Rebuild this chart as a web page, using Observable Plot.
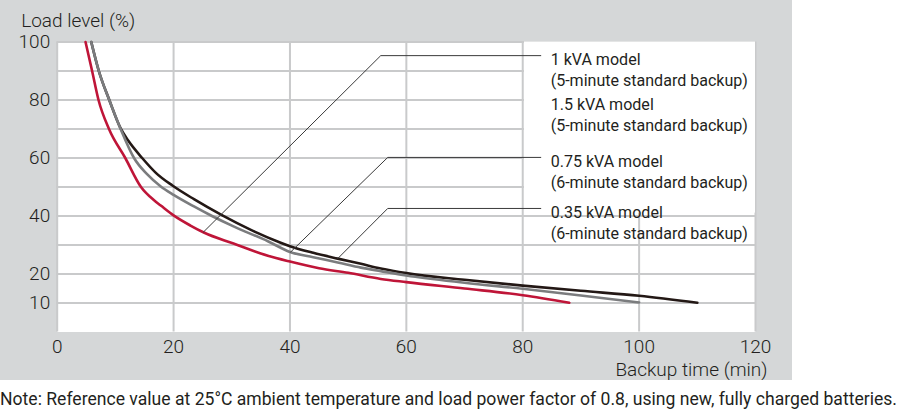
<!DOCTYPE html>
<html>
<head>
<meta charset="utf-8">
<script src="https://cdn.jsdelivr.net/npm/d3@7"></script>
<script src="https://cdn.jsdelivr.net/npm/@observablehq/plot@0.6"></script>
<style>
  html, body { margin: 0; padding: 0; background: #ffffff; }
  #chart { position: relative; width: 900px; height: 380px; }
  #panel { position: absolute; left: 0; top: 0; width: 792px; height: 380px; background: #d5d7d8; }
  #chart svg { position: absolute; left: 0; top: 0; }
  #note { width: 900px; margin-top: 8px; line-height: 22px; white-space: nowrap; overflow: visible; }
  #note span {
    display: inline-block; transform-origin: 0 50%;
    font-family: Roboto, "Liberation Sans", sans-serif;
    font-size: 18.5px; color: #231f20;
  }
</style>
</head>
<body>
<div id="chart"><div id="panel"></div></div>
<div id="note"><span>Note: Reference value at 25°C ambient temperature and load power factor of 0.8, using new, fully charged batteries.</span></div>
<script>
// Backup time (min) versus load level (%) for each UPS model
const curve1kVA = [
  [4.87, 100], [6.0, 90], [7.1, 80], [8.9, 70], [11.7, 60], [14.4, 50], [16.6, 45.5],
  [17.8, 43.6], [20, 40.2], [22.9, 36.7], [25.2, 34.3], [30.3, 30.5], [36.2, 26.3],
  [40, 24.3], [45, 22], [50, 20.4], [55.6, 18.3], [60, 17.2], [70, 15], [80, 12.7],
  [88, 10.1]
];
const curve075kVA = [
  [5.85, 100], [7.15, 90], [8.95, 80], [10.9, 70], [13.2, 60], [15.4, 54.5], [17.8, 50.2],
  [20, 47.3], [23.5, 43.3], [26.6, 40], [30.3, 36.4], [36.2, 31.3], [40, 27.6], [44, 25.8],
  [48.2, 24], [52.2, 22.2], [55.6, 21], [60, 19.5], [70, 17], [80, 14.9], [90, 12.6],
  [100, 10.2]
];
const curve035kVA = [
  [5.85, 100], [7.15, 90], [8.95, 80], [10.9, 70.2], [12.2, 66], [14.6, 60], [17, 54.8],
  [19.8, 50.5], [23.5, 45.8], [28.3, 40.3], [33.2, 35.3], [38.4, 30.8], [40, 29.6], [44, 27.3],
  [48.2, 25.3], [52.2, 23.5], [55.6, 21.9], [60, 20.3], [70, 18], [80, 16], [90, 14.2],
  [100, 12.5], [110, 10.1]
];

const xTicks = [0, 20, 40, 60, 80, 100, 120];
const yTicks = [10, 20, 40, 60, 80, 100];
const xGrid = [0, 20, 40, 60, 80, 100, 120];
const yGrid = [10, 20, 30, 40, 50, 60, 70, 80, 90, 100];

const modelNames = ["1 kVA model", "1.5 kVA model", "0.75 kVA model", "0.35 kVA model"];
const backupNotes = ["(5-minute standard backup)", "(5-minute standard backup)",
                     "(6-minute standard backup)", "(6-minute standard backup)"];

// Series keys and their stroke colours
const seriesKeys = ["m035", "m075", "m1"];
const seriesColors = ["#231815", "#7b7c7e", "#bf1538"];
const curves = [curve035kVA, curve075kVA, curve1kVA];
const labelInk = "#231f21";

// Callout layout: which curve each label points at, and where its leader bends
const callouts = [
  {i: 0, curve: 2, at: 25.1, bendX: 55.6, y: 95.3},
  {i: 1, curve: null, at: null, bendX: null, y: 79.8},
  {i: 2, curve: 1, at: 40.1, bendX: 56.8, y: 60.2},
  {i: 3, curve: 0, at: 48.2, bendX: 56.8, y: 42.6}
];
const leaderEndX = 83.1;
const labelX = 84.8;
const labelBox = {x1: 80.3, x2: 120, y1: 41, y2: 100};

function valueAt(points, x) {
  for (let k = 1; k < points.length; k++) {
    const [x0, y0] = points[k - 1], [x1, y1] = points[k];
    if (x >= x0 && x <= x1) return y0 + (y1 - y0) * (x - x0) / (x1 - x0);
  }
  return NaN;
}

const lineData = curves.flatMap((pts, k) => pts.map(([t, l]) => ({key: seriesKeys[k], t, l})));
const leaderData = callouts.filter(c => c.curve !== null).flatMap(c => [
  {id: c.i, t: c.at, l: valueAt(curves[c.curve], c.at)},
  {id: c.i, t: c.bendX, l: c.y},
  {id: c.i, t: leaderEndX, l: c.y}
]);
const labelData = callouts.map(c => ({t: labelX, l: c.y, text: modelNames[c.i] + "\n" + backupNotes[c.i]}));

const chart = Plot.plot({
  width: 900,
  height: 380,
  marginLeft: 56.7,
  marginRight: 145,
  marginTop: 41.5,
  marginBottom: 48.5,
  style: {background: "transparent", fontFamily: "Roboto, 'Liberation Sans', sans-serif", fontSize: "19px", fontWeight: 300, color: "#231f20"},
  x: {domain: [0, 120]},
  y: {domain: [0, 100]},
  color: {type: "ordinal", domain: seriesKeys, range: seriesColors},
  marks: [
    Plot.frame({fill: "white", stroke: null}),
    Plot.gridX(xGrid, {stroke: "#c9cacb", strokeOpacity: 1, strokeWidth: 2}),
    Plot.gridY(yGrid, {stroke: "#c9cacb", strokeOpacity: 1, strokeWidth: 2}),
    Plot.rect([labelBox], {x1: "x1", x2: "x2", y1: "y1", y2: "y2", fill: "white"}),
    Plot.line(lineData, {x: "t", y: "l", z: "key", stroke: "key", strokeWidth: 2.6, curve: "monotone-x"}),
    Plot.line(leaderData, {x: "t", y: "l", z: "id", stroke: "#3a3a3a", strokeWidth: 1}),
    Plot.text(labelData, {x: "t", y: "l", text: "text", textAnchor: "start", lineAnchor: "top", dy: -5.5,
      lineHeight: 1.24, fontSize: 17, fontWeight: 400, fill: labelInk}),
    Plot.axisX(xTicks, {tickSize: 0, tickPadding: 7, label: null}),
    Plot.axisY(yTicks, {tickSize: 0, tickPadding: 7, label: null}),
    Plot.text(["Load level (%)"], {frameAnchor: "top-left", dx: -36, dy: -21, textAnchor: "start", lineAnchor: "middle", fill: "#231f20"}),
    Plot.text(["Backup time (min)"], {frameAnchor: "bottom-right", dx: 12, dy: 37.5, textAnchor: "end", lineAnchor: "middle", fill: "#231f20"})
  ]
});
document.getElementById("chart").appendChild(chart);

// Narrow the model labels slightly, keeping their shared left edge in place
const labelLeft = chart.scale("x").apply(labelX);
chart.querySelectorAll(`g[fill="${labelInk}"]`).forEach(g => {
  const base = g.getAttribute("transform") || "";
  g.setAttribute("transform",
    `${base} translate(${labelLeft},0) scale(0.945,1) translate(${-labelLeft},0)`.trim());
});

// Fit the footnote to the page width with a horizontal squeeze
const noteSpan = document.querySelector("#note span");
const noteWidth = noteSpan.getBoundingClientRect().width;
if (noteWidth > 0) noteSpan.style.transform = `scaleX(${Math.min(1, 897 / noteWidth)})`;
</script>
</body>
</html>
